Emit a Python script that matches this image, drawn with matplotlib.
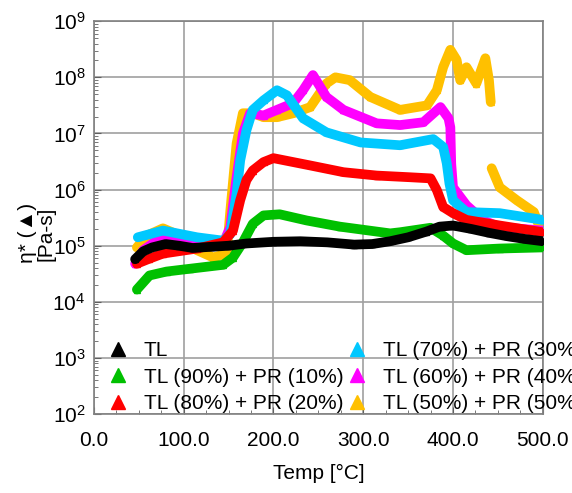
import numpy as np
import matplotlib
matplotlib.use("Agg")
import matplotlib.pyplot as plt
from matplotlib.ticker import MultipleLocator, LogLocator, FormatStrFormatter

plt.rcParams['font.family'] = ['Liberation Sans', 'DejaVu Sans']
plt.rcParams['mathtext.fontset'] = 'custom'
plt.rcParams['mathtext.rm'] = 'Liberation Sans'

# temperature [°C] and log10 of complex viscosity [Pa-s]
t_tl = [46, 55, 65, 80, 95, 110, 130, 150, 170, 200, 230, 260, 290, 310, 330,
        350, 370, 385, 400, 420, 440, 460, 480, 500]
log_tl = [4.76, 4.90, 4.97, 5.03, 5.00, 4.96, 4.98, 5.00, 5.04, 5.07, 5.08, 5.06,
          5.02, 5.03, 5.08, 5.15, 5.25, 5.34, 5.36, 5.30, 5.23, 5.17, 5.12, 5.08]

t_90 = [48, 62, 81, 107, 144, 155, 166, 177, 189, 207, 237, 274, 330, 341,
        375, 389, 400, 415, 452, 500]
log_90 = [4.22, 4.47, 4.54, 4.59, 4.66, 4.79, 5.06, 5.39, 5.54, 5.56, 5.45,
          5.34, 5.22, 5.24, 5.32, 5.18, 5.04, 4.92, 4.95, 4.97]

t_80 = [48, 62, 77, 115, 144, 155, 163, 170, 177, 189, 200, 241, 278, 315,
        352, 375, 382, 389, 400, 415, 452, 500]
log_80 = [4.68, 4.77, 4.86, 4.95, 5.06, 5.27, 5.81, 6.17, 6.34, 6.49, 6.56, 6.43,
          6.31, 6.25, 6.22, 6.20, 5.99, 5.69, 5.58, 5.46, 5.36, 5.24]

t_70 = [49, 77, 115, 144, 152, 159, 163, 170, 177, 189, 204, 215, 233, 259,
        297, 341, 378, 389, 393, 396, 400, 415, 452, 500]
log_70 = [5.15, 5.27, 5.15, 5.09, 5.21, 5.93, 6.52, 7.06, 7.42, 7.59, 7.77, 7.68,
          7.27, 7.02, 6.84, 6.79, 6.90, 6.76, 6.47, 6.11, 5.81, 5.60, 5.58, 5.46]

t_60 = [46, 55, 70, 85, 115, 144, 152, 159, 166, 174, 189, 204, 222, 233, 244,
        259, 278, 315, 341, 367, 386, 395, 397, 398, 400, 415, 434, 452, 500]
log_60 = [4.68, 4.92, 5.09, 5.13, 5.00, 5.04, 5.33, 6.22, 7.00, 7.36, 7.32, 7.42,
          7.54, 7.77, 8.04, 7.65, 7.42, 7.18, 7.15, 7.20, 7.47, 7.27, 7.11, 6.46,
          6.04, 5.72, 5.45, 5.33, 5.27]

t_50 = [48, 59, 77, 96, 115, 133, 148, 152, 159, 166, 177, 189, 204, 222, 241,
        259, 269, 285, 308, 341, 371, 382, 389, 397, 404, 408, 415, 426, 436,
        440, 442, np.nan, 443, 452, 471, 490, 495]
log_50 = [4.97, 5.18, 5.31, 5.18, 4.92, 4.79, 4.86, 5.62, 6.82, 7.36, 7.36, 7.29,
          7.29, 7.36, 7.47, 7.89, 8.00, 7.95, 7.65, 7.42, 7.50, 7.77, 8.18, 8.49,
          8.31, 7.95, 8.18, 7.89, 8.34, 7.95, 7.56, np.nan, 6.38, 6.04, 5.81,
          5.60, 5.39]

series = [
    ("TL", t_tl, log_tl, "#000000"),
    ("TL (90%) + PR (10%)", t_90, log_90, "#00c000"),
    ("TL (80%) + PR (20%)", t_80, log_80, "#ff0000"),
    ("TL (70%) + PR (30%)", t_70, log_70, "#00c8ff"),
    ("TL (60%) + PR (40%)", t_60, log_60, "#ff00ff"),
    ("TL (50%) + PR (50%)", t_50, log_50, "#ffc000"),
]

fig = plt.figure(figsize=(5.72, 4.93), dpi=100)
ax = fig.add_axes([0.164, 0.160, 0.785, 0.797])

n = len(series)
for i, (name, t, lg, c) in enumerate(series):
    ax.plot(t, 10 ** np.array(lg, dtype=float), color=c, lw=7, marker="^",
            ms=5, solid_joinstyle="round", solid_capstyle="round",
            zorder=3 + n - i, label=name)

ax.set_yscale("log")
ax.set_xlim(0, 500)
ax.set_ylim(1e2, 1e9)
ax.xaxis.set_major_locator(MultipleLocator(100))
ax.xaxis.set_minor_locator(MultipleLocator(25))
ax.xaxis.set_major_formatter(FormatStrFormatter("%.1f"))
ax.yaxis.set_major_locator(LogLocator(base=10, numticks=10))
ax.yaxis.set_minor_locator(LogLocator(base=10, subs=np.arange(2, 10), numticks=20))

ax.grid(True, which="major", color="#a0a0a0", lw=1.2)
ax.set_axisbelow(True)
for s in ax.spines.values():
    s.set_color("#808080")
    s.set_linewidth(1.2)
ax.tick_params(which="both", direction="in", colors="#606060", labelcolor="black",
               labelsize=15, top=False, right=False)
ax.tick_params(which="major", length=5)
ax.tick_params(axis="x", which="major", pad=12)
ax.tick_params(axis="y", which="major", pad=6)
ax.tick_params(which="minor", length=3)

ax.set_xlabel("Temp [°C]", fontsize=15, labelpad=10)
ax.set_ylabel("η* (▲)\n[Pa-s]", fontsize=15, linespacing=0.95)
ax.yaxis.set_label_coords(-0.085, 0.46)

leg = ax.legend(loc="lower left", bbox_to_anchor=(-0.012, -0.045), ncol=2,
                frameon=False, fontsize=15, handlelength=1.0, handletextpad=0.75,
                columnspacing=0.15, labelspacing=0.35, markerscale=2.0)
for h in leg.legend_handles:
    h.set_linestyle("none")

fig.savefig("out.png", dpi=100)
